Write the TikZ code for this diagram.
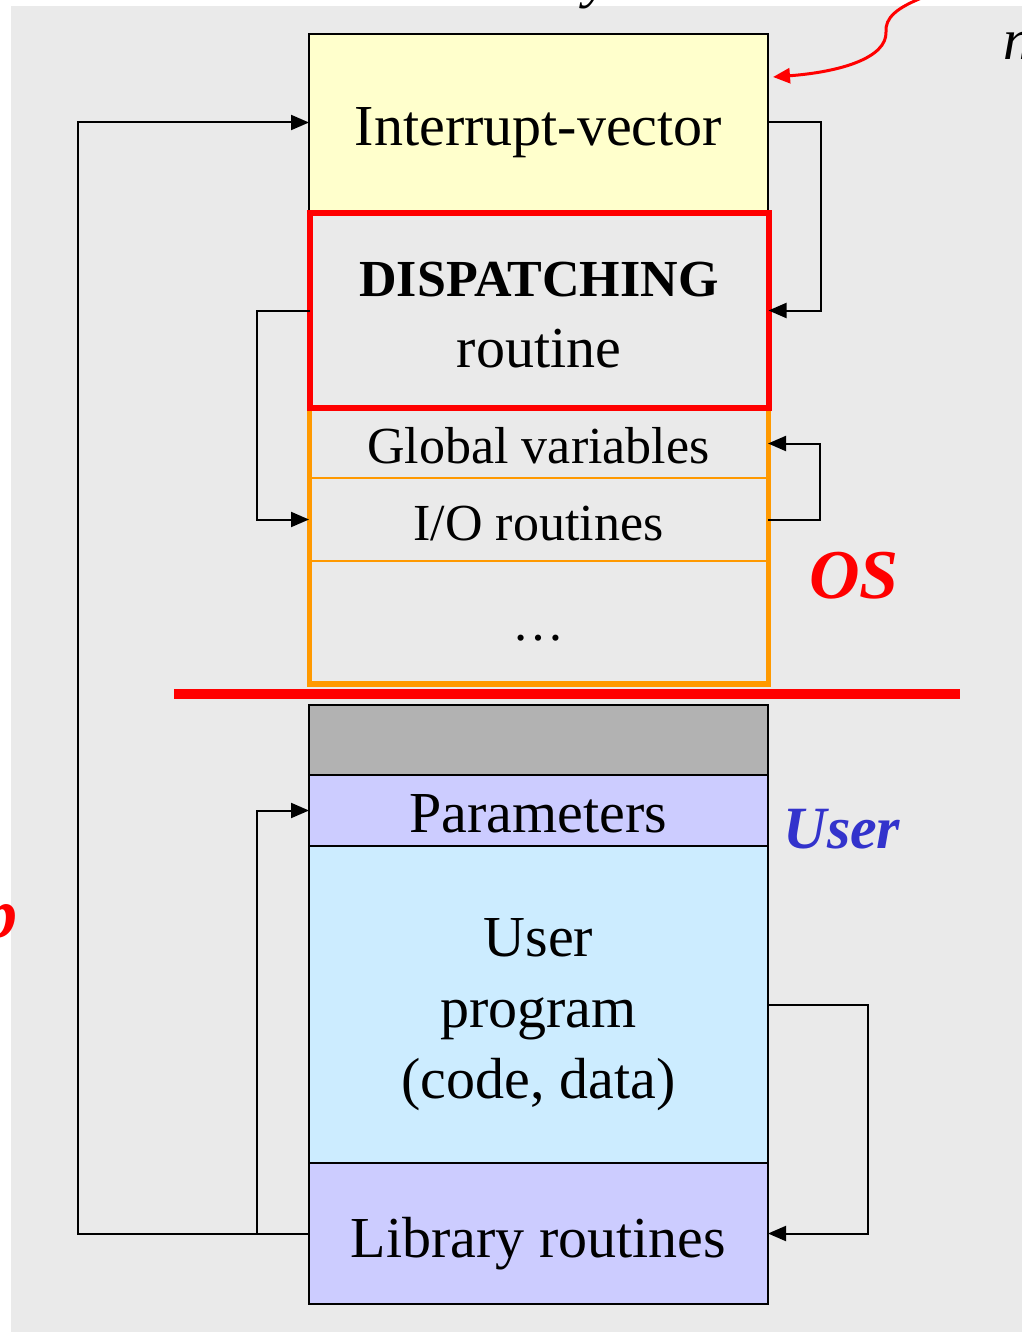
\documentclass[tikz,border=0pt]{standalone}
\usepackage{fontspec}
\setmainfont{Liberation Serif}
\usetikzlibrary{arrows.meta}
\definecolor{panel}{HTML}{EAEAEA}
\definecolor{ivfill}{HTML}{FFFFCC}
\definecolor{osorange}{HTML}{FF9900}
\definecolor{guard}{HTML}{B2B2B2}
\definecolor{lilac}{HTML}{CCCCFF}
\definecolor{skyfill}{HTML}{CCECFF}
\definecolor{userblue}{HTML}{3333CC}
% invisible strut that lowers the first line of a multi-line cell
\newcommand\firstlinestrut[1]{\rule{0pt}{#1}}
\begin{document}
\begin{tikzpicture}[x=1pt,y=-1pt,
  cell/.style={minimum width=459pt, inner sep=0pt, outer sep=0pt,
    anchor=north west, align=center, font=\fontsize{58}{71}\selectfont},
  framed/.style={cell, draw=black, line width=2pt},
  row/.style={cell, font=\fontsize{52}{62}\selectfont},
  baseline at/.style={text height=#1, text depth=0pt},
  conn/.style={draw=black, line width=2pt,
    -{Triangle[length=18pt,width=15pt]}},
  side/.style={anchor=base, font=\fontsize{#1}{#1}\selectfont\bfseries\itshape},
]
\useasboundingbox (0,0) rectangle (1021,1332);
% panel
\fill[panel] (11,6) rectangle (1030,1340);

% OS part of memory
\node[framed, fill=ivfill, minimum height=177pt, baseline at=47pt] (iv) at (309,34) {Interrupt-vector};
\draw[osorange, line width=5.5pt] (309.5,213.5) rectangle (768.5,684);
\node[row, minimum height=69pt, baseline at=39pt] (glob) at (309,409) {Global variables};
\node[row, minimum height=83pt, baseline at=41pt] (io) at (309,478) {I/O routines};
\node[row, minimum height=123pt] (dotsrow) at (309,561) {};
\node[anchor=base, font=\fontsize{52}{62}\selectfont] (dots) at ([yshift=-18pt]dotsrow.center) {\ldots};
\draw[osorange, line width=1.8pt] (glob.south west) -- (glob.south east);
\draw[osorange, line width=1.8pt] (io.south west) -- (io.south east);
\node[cell, draw=red, line width=6pt, minimum width=459pt, minimum height=194pt]
  (disp) at (309.5,213.5)
  {\firstlinestrut{44pt}{\fontsize{52}{60}\selectfont\bfseries DISPATCHING}\\[0pt]routine};

% boundary between OS and user memory
\coordinate (sepL) at (174,694);
\coordinate (sepR) at (960,694);
\draw[red, line width=10pt] (sepL) -- (sepR);

% user part of memory
\node[framed, fill=guard, minimum height=70pt] (gap) at (309,705) {};
\node[framed, fill=lilac, minimum height=71pt, baseline at=43pt] (params) at (309,775) {Parameters};
\node[framed, fill=skyfill, minimum height=317pt] (user) at (309,846)
  {\firstlinestrut{58pt}User\\program\\(code, data)};
\node[framed, fill=lilac, minimum height=141pt, baseline at=47pt] (lib) at (309,1163) {Library routines};

% control transfers
\draw[conn] (lib.west) -- ++(-231,0) |- (iv.west);
\draw[conn] (lib.west) -- ++(-52,0) |- (params.west);
\draw[conn] (iv.east) -- ++(53,0) |- (disp.east);
\draw[conn] (disp.west) -- ++(-53,0) |- (io.west);
\draw[conn] (io.east) -- ++(52,0) |- (glob.east);
\draw[conn] (user.east) -- ++(100,0) |- (lib.east);

% labels
\node[side=70, text=red] (oslabel) at (854,598) {OS};
\node[side=60, text=userblue] (userlabel) at (842,848) {User};
\node[side=70, text=red, anchor=base east] (plabel) at (21,937) {p};
\node[anchor=base west, font=\fontsize{58}{58}\selectfont\itshape] (nlabel) at (1000,60) {n};
\node[anchor=base, font=\fontsize{58}{58}\selectfont\itshape] (ylabel) at (597,-3) {y};

% incoming red arrow
\coordinate (rtop) at (924,-3);
\draw[red, line width=3pt, -{Triangle[length=17pt,width=15pt]}]
  (rtop) .. controls (896,8) and (885,18) .. (886,32)
  .. controls (887,58) and (840,72) .. ([xshift=5pt]iv.north east |- 0,77);
\end{tikzpicture}
\end{document}
